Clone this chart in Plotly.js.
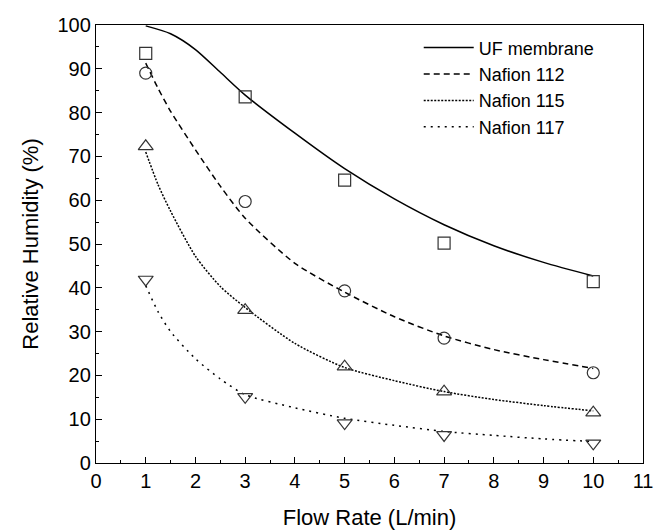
<!DOCTYPE html>
<html>
<head>
<meta charset="utf-8">
<script src="https://cdn.plot.ly/plotly-3.0.1.min.js"></script>
<style>html,body{margin:0;padding:0;background:#fff;}#chart{width:662px;height:532px;}</style>
</head>
<body>
<div id="chart"></div>
<script>
// Measured points
const flowRates = [1, 3, 5, 7, 10];
const ufPoints = [93.5, 83.6, 64.6, 50.2, 41.4];
const n112Points = [89.0, 59.7, 39.3, 28.5, 20.6];
const n115Points = [72.3, 34.9, 22.0, 16.3, 11.5];
const n117Points = [41.9, 15.1, 9.1, 6.4, 4.5];

// Fitted curves
const ufCurveX = [1, 1.5, 2, 2.5, 3, 4, 5, 6, 7, 8, 9, 10];
const ufCurve = [99.8, 98.0, 94.4, 89.2, 84.0, 75.3, 67.2, 60.3, 54.4, 49.6, 45.8, 42.7];
const nafCurveX = [1, 1.25, 1.5, 2, 2.5, 3, 4, 5, 6, 7, 8, 9, 10];
const n112Curve = [91.3, 85.5, 80.3, 71.5, 63.2, 55.9, 45.6, 39.0, 33.4, 29.0, 25.9, 23.6, 21.6];
const n115Curve = [71.0, 63.5, 57.5, 47.2, 40.3, 35.5, 27.3, 21.8, 18.8, 16.3, 14.5, 13.1, 11.9];
const n117Curve = [40.5, 34.5, 30.0, 23.8, 19.2, 15.6, 12.6, 10.2, 8.6, 7.2, 6.3, 5.5, 4.9];

const seriesNames = ['UF membrane', 'Nafion 112', 'Nafion 115', 'Nafion 117'];
const FONT = 'Liberation Sans, Arial, sans-serif';
const tickFont = {family: FONT, size: 20, color: '#000'};

const curveXs = [ufCurveX, nafCurveX, nafCurveX, nafCurveX];
const curves = [ufCurve, n112Curve, n115Curve, n117Curve];
const points = [ufPoints, n112Points, n115Points, n117Points];
const dashes = ['solid', '6px,4px', '2px,1.5px', '2px,5px'];
const symbols = ['square-open', 'circle-open', 'triangle-up-open', 'triangle-down-open'];
const sizes = [12, 12, 13, 13];

const traces = [];
for (let i = 0; i < 4; i++) {
  traces.push({
    x: curveXs[i], y: curves[i], type: 'scatter', mode: 'lines', name: seriesNames[i],
    line: {color: '#000', width: 1.5, dash: dashes[i], shape: 'spline', smoothing: 0.7},
    showlegend: true
  });
}
for (let i = 0; i < 4; i++) {
  traces.push({
    x: flowRates, y: points[i], type: 'scatter', mode: 'markers', name: seriesNames[i] + ' data',
    marker: {symbol: symbols[i], size: sizes[i], color: '#333', line: {color: '#333', width: 1.2}},
    showlegend: false
  });
}

const layout = {
  width: 662, height: 532,
  margin: {l: 96, r: 19, t: 25, b: 69},
  paper_bgcolor: '#fff', plot_bgcolor: '#fff',
  showlegend: true,
  legend: {
    x: 0.59, y: 0.99, xanchor: 'left', yanchor: 'top',
    font: {family: FONT, size: 18, color: '#000'},
    bgcolor: 'rgba(0,0,0,0)', borderwidth: 0, itemwidth: 50, tracegroupgap: 0
  },
  xaxis: {
    range: [0, 11], dtick: 1, tick0: 0,
    showgrid: false, zeroline: false,
    showline: true, linecolor: '#000', linewidth: 1.2, mirror: true,
    ticks: 'inside', ticklen: 6, tickcolor: '#000', tickwidth: 1,
    minor: {ticks: 'inside', ticklen: 3, dtick: 0.5, tickcolor: '#000', showgrid: false},
    tickfont: tickFont,
    title: {text: 'Flow Rate (L/min)', font: {family: FONT, size: 22, color: '#000'}, standoff: 18}
  },
  yaxis: {
    range: [0, 100], dtick: 10, tick0: 0,
    showgrid: false, zeroline: false,
    showline: true, linecolor: '#000', linewidth: 1.2, mirror: true,
    ticks: 'inside', ticklen: 6, tickcolor: '#000', tickwidth: 1,
    minor: {ticks: 'inside', ticklen: 3, dtick: 5, tickcolor: '#000', showgrid: false},
    tickfont: tickFont,
    title: {text: 'Relative Humidity (%)', font: {family: FONT, size: 22, color: '#000'}, standoff: 12}
  }
};

Plotly.newPlot('chart', traces, layout, {displayModeBar: false, staticPlot: true});
</script>
</body>
</html>
